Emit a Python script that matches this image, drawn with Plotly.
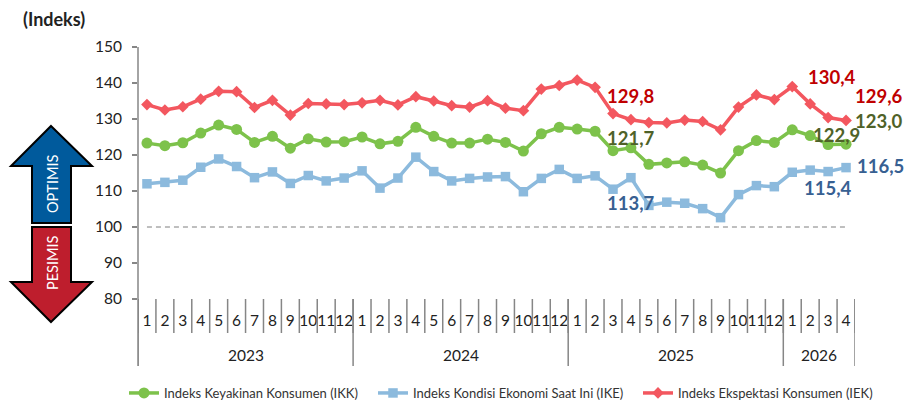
import plotly.graph_objects as go

months = [1,2,3,4,5,6,7,8,9,10,11,12]*3 + [1,2,3,4]
years = ["2023", "2024", "2025", "2026"]
year_counts = [12, 12, 12, 4]
ikk = [123.3,122.6,123.4,126.1,128.3,127.1,123.5,125.2,121.9,124.5,123.6,123.7,
       125.0,123.1,123.8,127.7,125.2,123.3,123.3,124.4,123.5,121.1,125.9,127.7,
       127.2,126.6,121.2,122.0,117.4,117.8,118.1,117.2,115.0,121.2,124.0,123.5,
       127.0,125.4,122.9,123.0]
ike = [112.0,112.4,113.0,116.6,118.9,116.8,113.7,115.3,112.1,114.3,112.8,113.6,
       115.6,110.8,113.6,119.4,115.4,112.8,113.5,113.9,114.0,109.8,113.5,116.0,
       113.5,114.2,110.5,113.7,106.0,106.9,106.6,105.1,102.6,109.0,111.5,111.2,
       115.2,115.8,115.4,116.5]
iek = [134.0,132.5,133.4,135.5,137.7,137.6,133.2,135.2,131.1,134.3,134.2,134.0,
       134.5,135.2,133.9,136.2,135.0,133.7,133.3,135.1,133.0,132.3,138.3,139.3,
       140.8,138.8,131.5,129.8,129.0,128.9,129.7,129.3,127.0,133.3,136.7,135.4,
       139.0,134.2,130.4,129.6]
neutral = [100]*40
names = ["Indeks Keyakinan Konsumen (IKK)", "Indeks Kondisi Ekonomi Saat Ini (IKE)", "Indeks Ekspektasi Konsumen (IEK)"]

W, H = 908, 403
L, R, T, B = 138, 855, 47, 299
FONT = "Lato"
GRAY = "#868686"
def px(x): return (x - L) / (R - L)
def py(y): return (B - y) / (B - T)

x = list(range(40))
fig = go.Figure()
fig.add_trace(go.Scatter(x=x, y=neutral, mode="lines", showlegend=False,
                         line=dict(color="#7f7f7f", width=1, dash="5px,4px")))
for vals, name, col, sym, size, lg in [
    (ikk, names[0], "#7DC24B", "circle", 11, "legend"),
    (ike, names[1], "#8CBADD", "square", 9.5, "legend2"),
    (iek, names[2], "#F3575F", "diamond", 9, "legend3"),
]:
    fig.add_trace(go.Scatter(x=x, y=vals, mode="lines+markers", name=name, legend=lg,
                             line=dict(color=col, width=3.5),
                             marker=dict(color=col, symbol=sym, size=size)))

shapes = []
def vline(i, bottom):
    shapes.append(dict(type="line", xref="x", yref="paper", x0=i-0.5, x1=i-0.5,
                       y0=py(bottom), y1=0, line=dict(color=GRAY, width=1.5)))
for i in range(41):
    vline(i, 333)
pos = 0
ann = []
for yr, c in zip(years, year_counts):
    vline(pos, 366)
    ann.append(dict(x=pos + c/2 - 0.5, y=py(355), xref="x", yref="paper", text=yr, showarrow=False,
                    xanchor="center", yanchor="middle",
                    font=dict(size=15.5, color="#222222", family=FONT)))
    pos += c
vline(pos, 366)
shapes.append(dict(type="line", xref="paper", yref="paper", x0=0, x1=0, y0=py(366), y1=1,
                   line=dict(color=GRAY, width=1.5)))

def arrow(points, fill):
    d = "M " + " L ".join(f"{px(a):.5f} {py(b):.5f}" for a, b in points) + " Z"
    shapes.append(dict(type="path", xref="paper", yref="paper", path=d, fillcolor=fill,
                       line=dict(color="#000000", width=2)))
arrow([(51,126),(92,166),(71,166),(71,223),(32,223),(32,166),(11,166)], "#005A9C")
arrow([(51,322),(92,282),(71,282),(71,227),(32,227),(32,282),(11,282)], "#BE1E2D")

for text, yc in [("OPTIMIS", 184), ("PESIMIS", 263)]:
    ann.append(dict(x=px(52), y=py(yc), xref="paper", yref="paper", text=text, textangle=-90,
                    xanchor="center", yanchor="middle",
                    showarrow=False, font=dict(size=14.5, color="#ffffff", family=FONT)))
ann.append(dict(x=px(54), y=py(19), xref="paper", yref="paper", text="<b>(Indeks)</b>", showarrow=False,
                xanchor="center", yanchor="middle",
                font=dict(size=18, color="#222222", family=FONT)))

RED, OLIVE, BLUE = "#C00000", "#4F6228", "#376092"
for text, cx, cy, col in [
    ("129,8", 631, 96, RED), ("130,4", 832, 77, RED), ("129,6", 879, 96, RED),
    ("121,7", 631, 138, OLIVE), ("122,9", 836, 135, OLIVE), ("123,0", 879, 121, OLIVE),
    ("113,7", 631, 203, BLUE), ("115,4", 828, 188, BLUE), ("116,5", 880, 166, BLUE),
]:
    ann.append(dict(x=px(cx), y=py(cy), xref="paper", yref="paper", text=f"<b>{text}</b>", showarrow=False,
                    xanchor="center", yanchor="middle",
                    font=dict(size=18.5, color=col, family=FONT)))

def legend_at(xp):
    return dict(orientation="h", x=px(xp), y=py(393), xanchor="left", yanchor="middle",
                font=dict(size=13, color="#333333", family=FONT),
                bgcolor="rgba(0,0,0,0)", itemwidth=30)

fig.update_layout(
    width=W, height=H, autosize=False,
    margin=dict(l=L, r=W-R, t=T, b=H-B, pad=0, autoexpand=False),
    paper_bgcolor="white", plot_bgcolor="white",
    font=dict(family=FONT, color="#222222"),
    showlegend=True,
    legend=legend_at(124), legend2=legend_at(373), legend3=legend_at(638),
    xaxis=dict(range=[-0.5, 39.5], tickmode="array", tickvals=x, ticktext=[str(m) for m in months],
               showgrid=False, zeroline=False, showline=False, ticks="", ticklen=0, automargin=False,
               tickangle=0, ticklabelstandoff=10, tickfont=dict(size=15.5, color="#222222", family=FONT)),
    yaxis=dict(range=[80, 150], tickvals=list(range(80, 151, 10)), showgrid=False, zeroline=False,
               showline=False, ticks="outside", ticklen=5, tickcolor=GRAY, tickwidth=1.5, automargin=False,
               ticklabelstandoff=7, tickfont=dict(size=15.5, color="#222222", family=FONT)),
    shapes=shapes, annotations=ann,
)
fig.write_html("out.html", config=dict(displayModeBar=False),
               post_script="document.body.style.margin='0';document.documentElement.style.overflow='hidden';")
